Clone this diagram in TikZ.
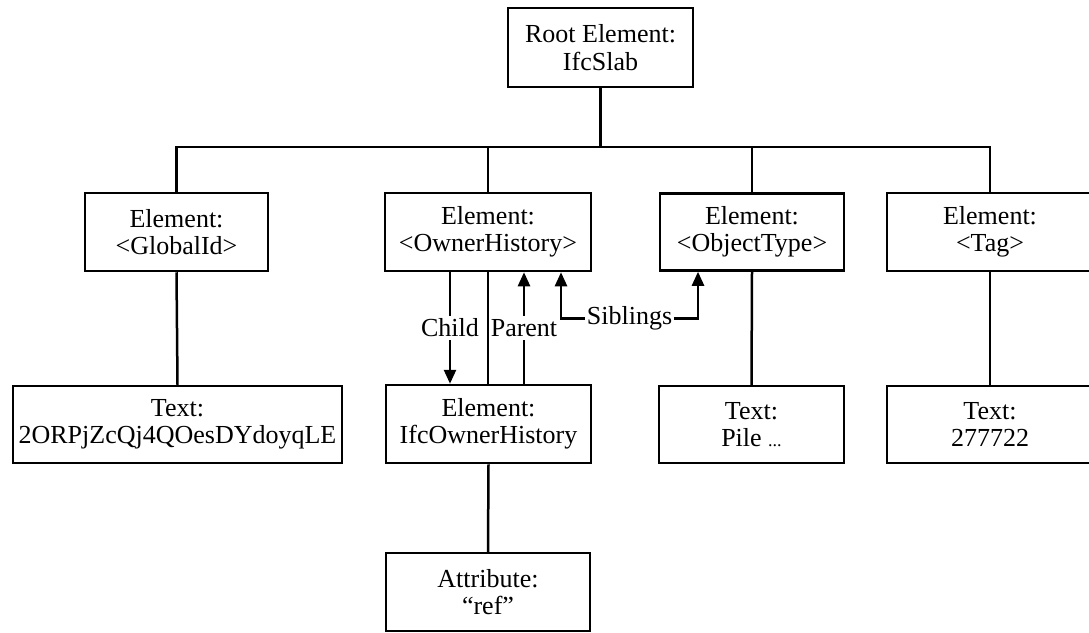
\documentclass[tikz,border=0pt]{standalone}
\usepackage{fontspec}
\setmainfont{Liberation Serif}
\usetikzlibrary{arrows.meta}

\begin{document}
\begin{tikzpicture}[x=1pt,y=-1pt,
  line width=2.5pt,
  box/.style={draw, rectangle, align=center, inner sep=0pt,
    font=\fontsize{26pt}{27.5pt}\selectfont},
  lbl/.style={fill=white, inner xsep=1.5pt, inner ysep=3pt,
    font=\fontsize{26pt}{27.5pt}\selectfont},
  arr/.style={-{Triangle[length=14pt,width=12pt]}},
  arrs/.style={{Triangle[length=14pt,width=12pt]}-{Triangle[length=14pt,width=12pt]}}]

\clip (0,0) rectangle (1089,632);
\fill[white] (0,0) rectangle (1089,632);

% tree nodes
\node[box, minimum width=185pt, minimum height=79pt] (root) at (600.5,47.5) {Root Element:\\IfcSlab};

\node[box, minimum width=183pt, minimum height=78pt] (gid) at (176.5,232) {Element:\\<GlobalId>};
\node[box, minimum width=206pt, minimum height=78pt] (oh)  at (488,232)   {Element:\\<OwnerHistory>};
\node[box, minimum width=184pt, minimum height=77pt] (ot)  at (752,232)   {Element:\\<ObjectType>};
\node[box, minimum width=206pt, minimum height=78pt] (tag) at (990,232)   {Element:\\<Tag>};

\node[box, minimum width=329pt, minimum height=77pt] (tgid) at (177.5,424.5) {Text:\\2ORPjZcQj4QOesDYdoyqLE};
\node[box, minimum width=205pt, minimum height=78pt] (ioh)  at (488.5,424)   {Element:\\IfcOwnerHistory};
\node[box, minimum width=185pt, minimum height=77pt] (pile) at (751.5,424.5) {Text:\\Pile {\fontsize{18pt}{18pt}\selectfont...}};
\node[box, minimum width=206pt, minimum height=77pt] (ttag) at (990,424.5)   {Text:\\277722};

\node[box, minimum width=204pt, minimum height=78pt] (attr) at (488,592) {Attribute:\\``ref''};

% bus between root and first level
\coordinate (bus) at (0,147);
\draw (root.south) -- (root.south |- bus);
\draw (gid.north) -- (gid.north |- bus) -| (tag.north);
\draw (oh.north) -- (oh.north |- bus);
\draw (ot.north) -- (ot.north |- bus);

% first level to second level
\draw (gid.south) -- (tgid.north);
\draw (oh.south) -- (oh.south |- ioh.north);
\draw (ot.south) -- (pile.north);
\draw (tag.south) -- (ttag.north);
\draw (ioh.south) -- (attr.north);

% relation arrows
\draw[arr] ([xshift=-38pt]oh.south) -- node[lbl] {Child} ([xshift=-38pt]oh.south |- ioh.north);
\draw[arr] ([xshift=36pt]oh.south |- ioh.north) -- node[lbl] {Parent} ([xshift=36pt]oh.south);
\draw[arrs] ([xshift=73pt]oh.south) -- ++(0,46) -- node[lbl, inner xsep=2pt] {Siblings} ++(137,0) -- ([xshift=-54pt]ot.south);

\end{tikzpicture}
\end{document}
